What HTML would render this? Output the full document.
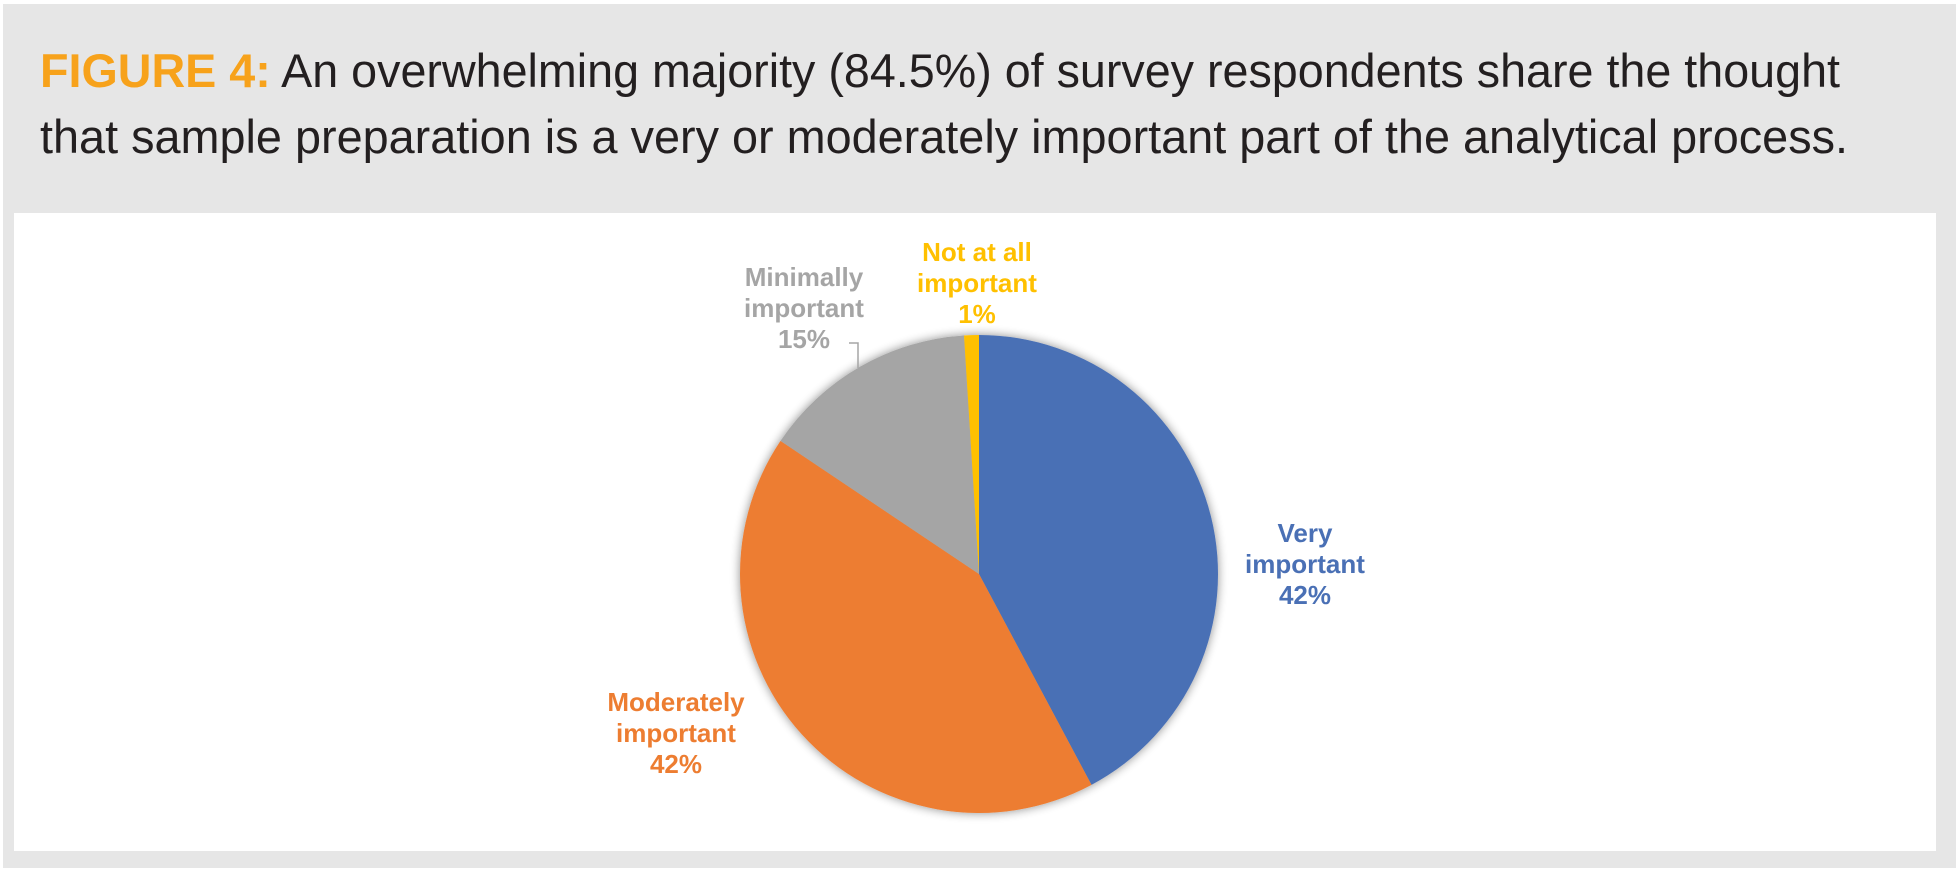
<!DOCTYPE html>
<html><head><meta charset="utf-8"><style>
html,body{margin:0;padding:0;background:#fff;}
svg{display:block;}
</style></head><body>
<svg width="1959" height="871" viewBox="0 0 1959 871" xmlns="http://www.w3.org/2000/svg">
<defs>
<filter id="sh" x="-20%" y="-20%" width="140%" height="140%">
<feGaussianBlur in="SourceAlpha" stdDeviation="5"/>
<feOffset dx="0" dy="0"/>
<feComponentTransfer><feFuncA type="linear" slope="0.45"/></feComponentTransfer>
<feMerge><feMergeNode/><feMergeNode in="SourceGraphic"/></feMerge>
</filter>
</defs>
<rect x="3" y="4" width="1953" height="864" fill="#e6e6e6"/>
<rect x="14" y="213" width="1922" height="638" fill="#ffffff"/>
<g font-family="'Liberation Sans', sans-serif" font-size="47">
<text x="40" y="87" textLength="1800" lengthAdjust="spacingAndGlyphs" fill="#231f20"><tspan fill="#f7a21b" font-weight="bold">FIGURE 4:</tspan> An overwhelming majority (84.5%) of survey respondents share the thought</text>
<text x="40" y="153" textLength="1808" lengthAdjust="spacingAndGlyphs" fill="#231f20">that sample preparation is a very or moderately important part of the analytical process.</text>
</g>
<g id="pie" filter="url(#sh)"></g>
<g id="labels" font-family="'Liberation Sans', sans-serif" font-size="26" font-weight="bold" text-anchor="middle"></g>
<path d="M849 343 L858 343 L858 368" fill="none" stroke="#a5a5a5" stroke-width="1.5"/>
</svg>
<script>
const categories = ["Very important", "Moderately important", "Minimally important", "Not at all important"];
const values = [42.2, 42.2, 14.6, 1.0];
const valueLabels = ["42%", "42%", "15%", "1%"];
const colors = ["#4a70b5", "#ed7d31", "#a5a5a5", "#ffc000"];
const cx = 979, cy = 574, r = 239;
const ns = "http://www.w3.org/2000/svg";
const pie = document.getElementById('pie');
const total = values.reduce((a,b)=>a+b,0);
let acc = 0;
function pt(a){ return [cx + r*Math.sin(a), cy - r*Math.cos(a)]; }
values.forEach((v,i)=>{
  const a0 = acc/total*2*Math.PI; acc += v;
  const a1 = acc/total*2*Math.PI;
  const p0 = pt(a0), p1 = pt(a1);
  const large = (a1-a0) > Math.PI ? 1 : 0;
  const p = document.createElementNS(ns,'path');
  p.setAttribute('d', `M${cx},${cy} L${p0[0]},${p0[1]} A${r},${r} 0 ${large} 1 ${p1[0]},${p1[1]} Z`);
  p.setAttribute('fill', colors[i]);
  
  
  pie.appendChild(p);
});
const labelPos = [[1305,542],[676,711],[804,286],[977,261]];
const lbl = document.getElementById('labels');
categories.forEach((c,i)=>{
  const words = c.split(' ');
  const lines = [words.slice(0,-1).join(' '), words[words.length-1], valueLabels[i]];
  const t = document.createElementNS(ns,'text');
  t.setAttribute('fill', colors[i]);
  
  
  lines.forEach((ln,j)=>{
    const s = document.createElementNS(ns,'tspan');
    s.setAttribute('x', labelPos[i][0]);
    s.setAttribute('y', labelPos[i][1] + j*31);
    s.textContent = ln;
    t.appendChild(s);
  });
  lbl.appendChild(t);
});
</script>
</body></html>
